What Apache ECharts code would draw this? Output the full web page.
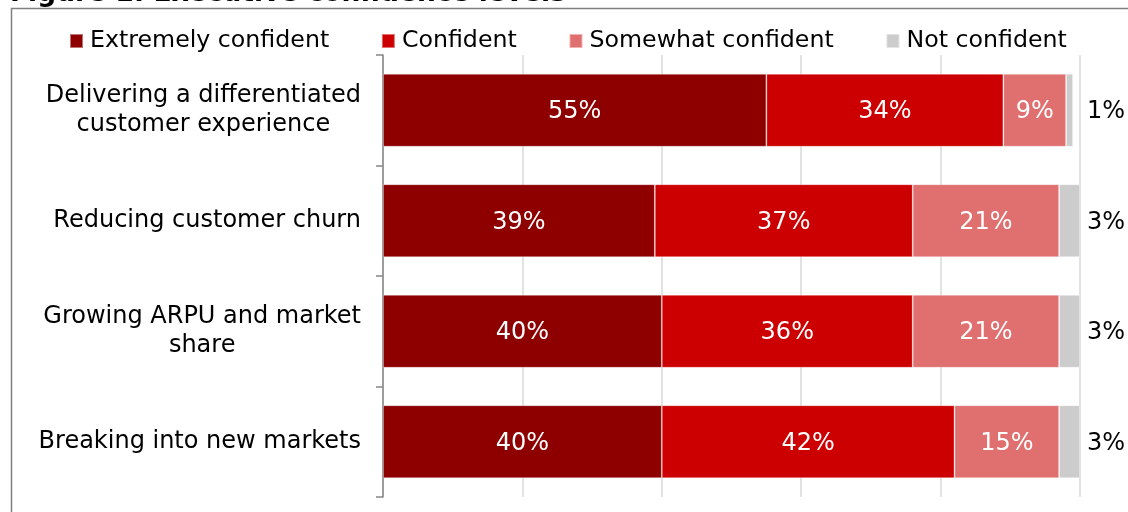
<!DOCTYPE html>
<html>
<head>
<meta charset="utf-8">
<script src="https://cdn.jsdelivr.net/npm/echarts@6/dist/echarts.min.js"></script>
<style>
  html, body { margin: 0; padding: 0; background: #ffffff; }
  #chart { width: 1128px; height: 512px; }
</style>
</head>
<body>
<div id="chart"></div>
<script>
// Survey: executive confidence across four growth goals (share of respondents, %)
const categories = [
  'Delivering a differentiated\ncustomer experience',
  'Reducing customer churn',
  'Growing ARPU and market\nshare',
  'Breaking into new markets'
];
const seriesNames = ['Extremely confident', 'Confident', 'Somewhat confident', 'Not confident'];
const extremelyConfident = [55, 39, 40, 40];
const confident = [34, 37, 36, 42];
const somewhatConfident = [9, 21, 21, 15];
const notConfident = [1, 3, 3, 3];
const xTicks = [0, 20, 40, 60, 80, 100];

const FONT = 'DejaVu Sans';
const colors = ['#8e0000', '#cc0000', '#e07070', '#cccccc'];
const values = [extremelyConfident, confident, somewhatConfident, notConfident];

const GRID_LEFT = 383, GRID_RIGHT = 48, CHART_W = 1128;
const pxPerUnit = (CHART_W - GRID_LEFT - GRID_RIGHT) / (xTicks[xTicks.length - 1] - xTicks[0]);

// Row totals, so the outside labels of the last segment line up past the 100% mark
const rowTotals = categories.map((_, r) => values.reduce((s, arr) => s + arr[r], 0));

const chart = echarts.init(document.getElementById('chart'), null, { renderer: 'canvas' });

const series = values.map((data, i) => {
  const isLast = i === values.length - 1;
  return {
    name: seriesNames[i],
    type: 'bar',
    stack: 'total',
    data: isLast
      ? data.map((v, r) => ({
          value: v,
          label: { distance: 7 + Math.max(0, 100 - rowTotals[r]) * pxPerUnit }
        }))
      : data,
    barCategoryGap: '34%',
    itemStyle: {
      color: colors[i],
      borderColor: 'rgba(255,255,255,0.45)',
      borderWidth: 0.8
    },
    label: {
      show: true,
      position: isLast ? 'right' : 'inside',
      distance: 7,
      offset: [0, 2],
      formatter: '{c}%',
      color: isLast ? '#000000' : '#ffffff',
      fontFamily: FONT,
      fontSize: 24
    },
    emphasis: { disabled: true }
  };
});

chart.setOption({
  animation: false,
  backgroundColor: '#ffffff',
  textStyle: { fontFamily: FONT },
  graphic: [
    {
      type: 'rect',
      shape: { x: 11.5, y: 8.5, width: 1300, height: 700 },
      style: { fill: 'none', stroke: '#808080', lineWidth: 1.5 },
      silent: true
    },
    {
      type: 'text',
      left: 10,
      top: -19,
      style: {
        text: 'Figure 1: Executive confidence levels',
        font: 'bold 26.5px "DejaVu Sans"',
        fill: '#000000'
      },
      silent: true
    }
  ],
  legend: {
    data: seriesNames,
    left: 64,
    top: 22,
    itemWidth: 13,
    itemHeight: 14,
    itemGap: 51.7,
    icon: 'rect',
    selectedMode: false,
    textStyle: {
      fontFamily: FONT,
      fontSize: 23.7,
      color: '#000000',
      lineHeight: 28,
      padding: [0, 0, 0, 2]
    }
  },
  grid: {
    left: GRID_LEFT,
    right: GRID_RIGHT,
    top: 55,
    bottom: 15,
    containLabel: false
  },
  xAxis: {
    type: 'value',
    min: xTicks[0],
    max: xTicks[xTicks.length - 1],
    interval: xTicks[1] - xTicks[0],
    axisLabel: { show: false },
    axisLine: { show: false },
    axisTick: { show: false },
    splitLine: { show: true, lineStyle: { color: '#d9d9d9', width: 1.5 } }
  },
  yAxis: {
    type: 'category',
    data: categories,
    inverse: true,
    axisLine: { show: true, lineStyle: { color: '#868686', width: 1.5 } },
    axisTick: { show: true, length: 7, lineStyle: { color: '#868686', width: 1.5 } },
    axisLabel: {
      margin: 22,
      align: 'right',
      color: '#000000',
      formatter: (v) => v.split('\n').map(line => '{c|' + line + '}').join('\n'),
      rich: {
        c: {
          align: 'center',
          fontFamily: FONT,
          fontSize: 24,
          lineHeight: 29,
          color: '#000000'
        }
      }
    }
  },
  series: series
});
</script>
</body>
</html>
